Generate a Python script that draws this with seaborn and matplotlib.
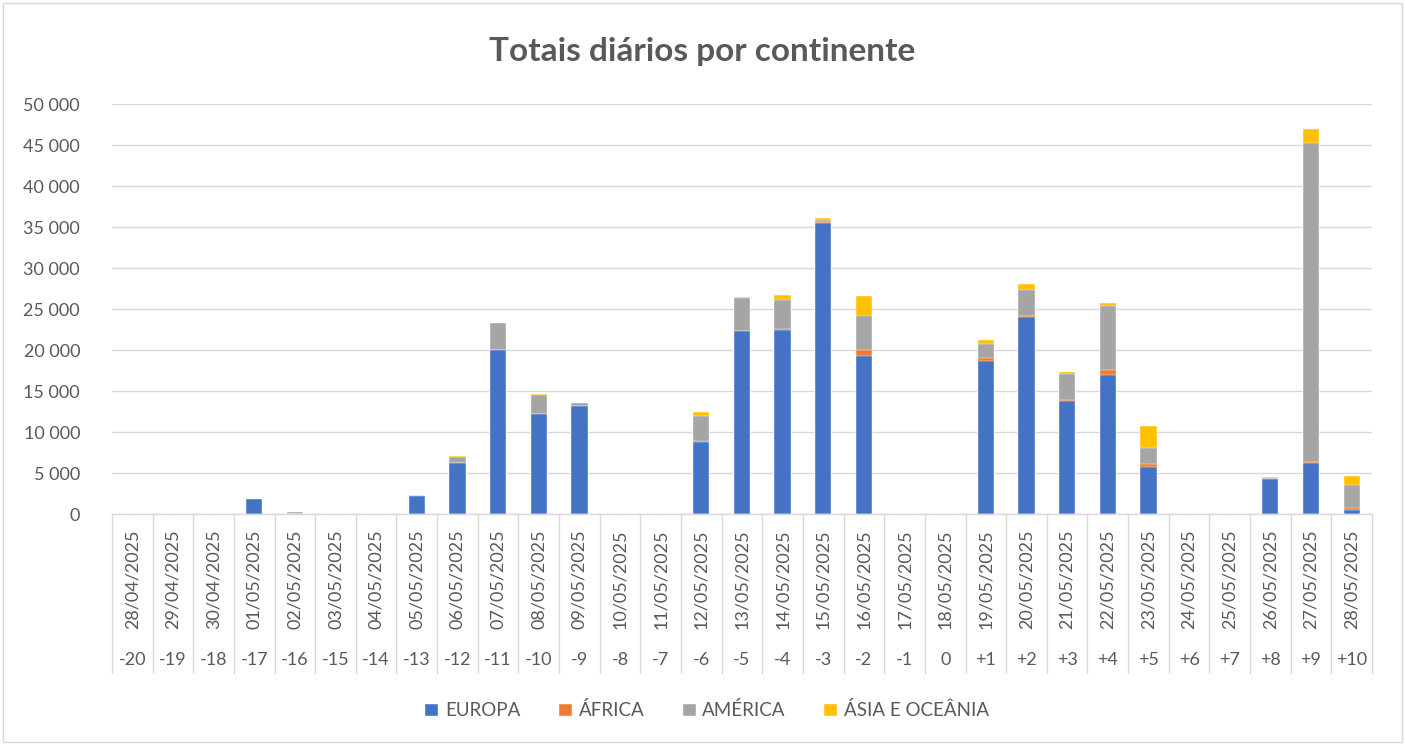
import numpy as np
import pandas as pd
import matplotlib
matplotlib.use("Agg")
import matplotlib.pyplot as plt
from matplotlib.patches import Rectangle, Patch
from matplotlib.ticker import FuncFormatter, MultipleLocator
import seaborn as sns

# data
dates = ["28/04/2025", "29/04/2025", "30/04/2025", "01/05/2025", "02/05/2025",
         "03/05/2025", "04/05/2025", "05/05/2025", "06/05/2025", "07/05/2025",
         "08/05/2025", "09/05/2025", "10/05/2025", "11/05/2025", "12/05/2025",
         "13/05/2025", "14/05/2025", "15/05/2025", "16/05/2025", "17/05/2025",
         "18/05/2025", "19/05/2025", "20/05/2025", "21/05/2025", "22/05/2025",
         "23/05/2025", "24/05/2025", "25/05/2025", "26/05/2025", "27/05/2025",
         "28/05/2025"]
offsets = ["-20", "-19", "-18", "-17", "-16", "-15", "-14", "-13", "-12", "-11",
           "-10", "-9", "-8", "-7", "-6", "-5", "-4", "-3", "-2", "-1", "0",
           "+1", "+2", "+3", "+4", "+5", "+6", "+7", "+8", "+9", "+10"]

europa = [0, 0, 0, 1800, 30, 0, 0, 2150, 6200, 20000,
          12200, 13150, 0, 0, 8750, 22300, 22500, 35500, 19250, 0, 0,
          18700, 24000, 13800, 17000, 5700, 0, 0, 4250, 6200, 450]
africa = [0, 0, 0, 30, 0, 0, 0, 0, 30, 0,
          0, 0, 0, 0, 200, 50, 50, 100, 750, 0, 0,
          350, 100, 50, 550, 400, 0, 0, 50, 150, 250]
america = [0, 0, 0, 0, 200, 0, 0, 100, 700, 3250,
           2300, 350, 0, 0, 3000, 3950, 3600, 300, 4100, 0, 0,
           1650, 3200, 3200, 7800, 1900, 0, 0, 150, 38900, 2800]
asia = [0, 0, 0, 0, 50, 0, 0, 80, 150, 100,
        80, 80, 0, 0, 480, 120, 500, 200, 2500, 0, 0,
        550, 800, 250, 350, 2750, 0, 0, 100, 1700, 1100]

series = ["EUROPA", "ÁFRICA", "AMÉRICA", "ÁSIA E OCEÂNIA"]
colors = ["#4472C4", "#ED7D31", "#A5A5A5", "#FFC000"]
text_color = "#595959"

df = pd.DataFrame({"date": dates, "EUROPA": europa, "ÁFRICA": africa,
                   "AMÉRICA": america, "ÁSIA E OCEÂNIA": asia})
# cumulative totals, drawn from the top down so the bars look stacked
cum = df[series].cumsum(axis=1)

sns.set_style("white")
plt.rcParams["font.family"] = ["Lato", "DejaVu Sans"]

fig = plt.figure(figsize=(14.05, 7.45), dpi=100)
ax = fig.add_axes([0.0797, 0.310, 0.8968, 0.5504])

for name, col in reversed(list(zip(series, colors))):
    sns.barplot(x=df["date"], y=cum[name], order=dates, color=col,
                width=0.4, errorbar=None, saturation=1, ax=ax,
                edgecolor="white", linewidth=0.3)

ax.set_ylim(0, 50000)
ax.set_xlim(-0.5, len(dates) - 0.5)
ax.yaxis.set_major_locator(MultipleLocator(5000))
ax.yaxis.set_major_formatter(FuncFormatter(lambda v, p: f"{int(v):,}".replace(",", " ")))
ax.grid(axis="y", color="#D9D9D9", linewidth=1)
ax.set_axisbelow(True)
for s in ["left", "right", "top"]:
    ax.spines[s].set_visible(False)
ax.spines["bottom"].set_color("#D9D9D9")
ax.spines["bottom"].set_linewidth(1)
ax.tick_params(axis="y", length=0, labelsize=13, labelcolor=text_color, pad=23)
ax.set_xticks([])
ax.set_xlabel("")
ax.set_ylabel("")

# two-level category axis
trans = ax.get_xaxis_transform()
for i, (d, o) in enumerate(zip(dates, offsets)):
    ax.text(i, -0.158, d, rotation=90, ha="center", va="center",
            fontsize=13, color=text_color, transform=trans)
    ax.text(i, -0.356, o, ha="center", va="center",
            fontsize=13, color=text_color, transform=trans)
for b in np.arange(-0.5, len(dates), 1.0):
    ax.plot([b, b], [0, -0.388], color="#D9D9D9", linewidth=1,
            transform=trans, clip_on=False)

fig.text(0.5, 0.931, "Totais diários por continente", ha="center", va="center",
         fontsize=24, fontweight="bold", color=text_color)

handles = [Patch(facecolor=c, label=n) for n, c in zip(series, colors)]
fig.legend(handles=handles, loc="center", bbox_to_anchor=(0.503, 0.047), ncol=4,
           frameon=False, fontsize=13.5, labelcolor=text_color,
           handlelength=0.75, handleheight=0.75, handletextpad=0.35, columnspacing=2.0)

fig.patches.append(Rectangle((0.002, 0.004), 0.996, 0.992, transform=fig.transFigure,
                             fill=False, edgecolor="#D9D9D9", linewidth=1))

fig.savefig("out.png", dpi=100, facecolor="white")
